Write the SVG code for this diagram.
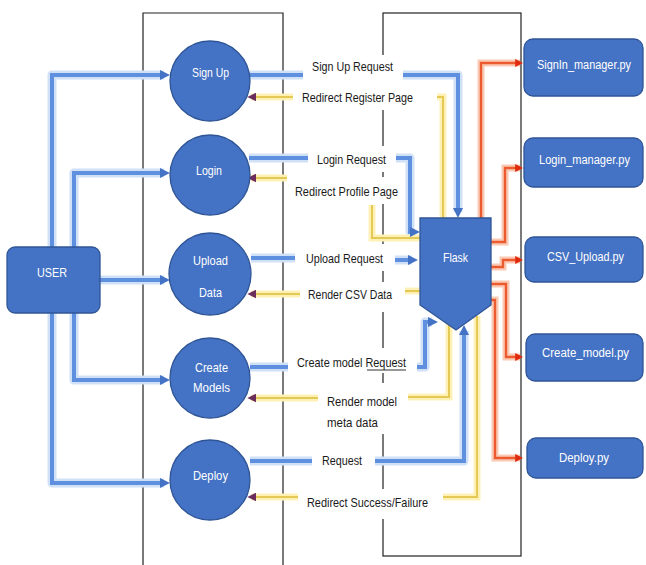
<svg xmlns="http://www.w3.org/2000/svg" width="646" height="565" viewBox="0 0 646 565">
<defs>
<style>
.frame{fill:none;stroke:#222;stroke-width:1.2}
.gB{fill:none;stroke:#cfe0f7;stroke-width:9;stroke-linejoin:round}
.cB{fill:none;stroke:#5f90e0;stroke-width:4;marker-end:url(#ab)}
.cBn{fill:none;stroke:#5f90e0;stroke-width:4}
.gY{fill:none;stroke:#fff1b5;stroke-width:7}
.cY{fill:none;stroke:#e6c855;stroke-width:2}
.cYa{fill:none;stroke:#e6c855;stroke-width:2;marker-end:url(#ap)}
.gR{fill:none;stroke:#fbcab4;stroke-width:7}
.cR{fill:none;stroke:#eb5b2f;stroke-width:2.4;marker-end:url(#ar)}
.node{fill:#4472c4;stroke:#2f5597;stroke-width:1.3}
.nt{font-family:"Liberation Sans Narrow","Liberation Sans",Arial,sans-serif;font-size:13px;fill:#fff}
.bt{font-family:"Liberation Sans Narrow","Liberation Sans",Arial,sans-serif;font-size:12px;fill:#fff}
.lt{font-family:"Liberation Sans Narrow","Liberation Sans",Arial,sans-serif;font-size:13px;fill:#1a1a1a}
.bg{fill:#fff}
</style>
<marker id="ab" viewBox="0 0 10 10" refX="4" refY="5" markerWidth="10" markerHeight="10" markerUnits="userSpaceOnUse" orient="auto"><path d="M0,0 L10,5 L0,10 z" fill="#4472c4"/></marker>
<marker id="ap" viewBox="0 0 10 10" refX="6" refY="5" markerWidth="9" markerHeight="9" markerUnits="userSpaceOnUse" orient="auto"><path d="M0,0 L10,5 L0,10 z" fill="#6b2d5c"/></marker>
<marker id="ar" viewBox="0 0 10 10" refX="6" refY="5" markerWidth="8" markerHeight="8" markerUnits="userSpaceOnUse" orient="auto"><path d="M0,0 L10,5 L0,10 z" fill="#e02a10"/></marker>
</defs>
<rect width="646" height="565" fill="#fff"/>
<g id="frames">
<path class="frame" d="M143,570 V13 H283 V570"/>
<rect class="frame" x="383" y="13" width="138" height="543"/>
</g>
<g id="connectors">
<g id="glow">
<path class="gB" d="M52,247 V75 H164"/>
<path class="gB" d="M74,247 V173 H164"/>
<path class="gB" d="M100,280 H164"/>
<path class="gB" d="M74,313 V380 H164"/>
<path class="gB" d="M52,313 V483 H164"/>
<path class="gB" d="M250,75 H303 M403,75 H458 V212"/>
<path class="gB" d="M249,158 H308 M396,158 H410 V232 H414"/>
<path class="gB" d="M251,258 H295 M395,260 H412"/>
<path class="gB" d="M250,367 H288 M417,367 H425 V322 H432"/>
<path class="gB" d="M250,461 H312 M375,461 H464 V331"/>
<path class="gY" d="M293,97 H251 M437,97 H443 V218"/>
<path class="gY" d="M287,178 H251 M420,238 H372 V205"/>
<path class="gY" d="M300,294 H251 M405,291 H420"/>
<path class="gY" d="M318,398 H251 M408,397 H449 V324"/>
<path class="gY" d="M298,497 H251 M443,497 H477 V316"/>
<path class="gR" d="M481,218 V63 H520"/>
<path class="gR" d="M491,242 H505 V168 H520"/>
<path class="gR" d="M491,267 H503 V260 H520"/>
<path class="gR" d="M491,284 H506 V357 H520"/>
<path class="gR" d="M491,300 H495 V458 H520"/>
</g>
<g id="user-links">
<path class="cB" d="M52,247 V75 H164"/>
<path class="cB" d="M74,247 V173 H164"/>
<path class="cB" d="M100,280 H164"/>
<path class="cB" d="M74,313 V380 H164"/>
<path class="cB" d="M52,313 V483 H164"/>
</g>
<g id="requests">
<path class="cBn" d="M250,75 H303"/><path class="cB" d="M403,75 H458 V212"/>
<path class="cBn" d="M249,158 H308"/><path class="cB" d="M396,158 H410 V232 H414"/>
<path class="cBn" d="M251,258 H295"/><path class="cB" d="M395,260 H412"/>
<path class="cBn" d="M250,367 H288"/><path class="cB" d="M417,367 H425 V322 H432"/>
<path class="cBn" d="M250,461 H312"/><path class="cB" d="M375,461 H464 V331"/>
</g>
<g id="responses">
<path class="cYa" d="M293,97 H251"/><path class="cY" d="M437,97 H443 V218"/>
<path class="cYa" d="M287,178 H251"/><path class="cY" d="M420,238 H372 V205"/>
<path class="cYa" d="M300,294 H251"/><path class="cY" d="M405,291 H420"/>
<path class="cYa" d="M318,398 H251"/><path class="cY" d="M408,397 H449 V324"/>
<path class="cYa" d="M298,497 H251"/><path class="cY" d="M443,497 H477 V316"/>
</g>
<g id="dispatch">
<path class="cR" d="M481,218 V63 H520"/>
<path class="cR" d="M491,242 H505 V168 H520"/>
<path class="cR" d="M491,267 H503 V260 H520"/>
<path class="cR" d="M491,284 H506 V357 H520"/>
<path class="cR" d="M491,300 H495 V458 H520"/>
</g>
<g id="labels">
<rect class="bg" x="303" y="55" width="100" height="30"/>
<text class="lt" x="312" y="71" textLength="81" lengthAdjust="spacingAndGlyphs">Sign Up Request</text>
<rect class="bg" x="293" y="85" width="144" height="25"/>
<text class="lt" x="302" y="102" textLength="111" lengthAdjust="spacingAndGlyphs">Redirect Register Page</text>
<rect class="bg" x="308" y="146" width="88" height="26"/>
<text class="lt" x="317" y="164" textLength="69" lengthAdjust="spacingAndGlyphs">Login Request</text>
<rect class="bg" x="287" y="177" width="115" height="27"/>
<text class="lt" x="295" y="196" textLength="103" lengthAdjust="spacingAndGlyphs">Redirect Profile Page</text>
<rect class="bg" x="295" y="244" width="100" height="27"/>
<text class="lt" x="306" y="263" textLength="77" lengthAdjust="spacingAndGlyphs">Upload Request</text>
<rect class="bg" x="300" y="282" width="105" height="30"/>
<text class="lt" x="308" y="299" textLength="84" lengthAdjust="spacingAndGlyphs">Render CSV Data</text>
<rect class="bg" x="288" y="348" width="129" height="25"/>
<text class="lt" x="297" y="367" textLength="109" lengthAdjust="spacingAndGlyphs">Create model Request</text>
<line x1="367" y1="370" x2="406" y2="370" stroke="#1a1a1a" stroke-width="0.9"/>
<rect class="bg" x="318" y="383" width="90" height="51"/>
<text class="lt" x="327" y="406" textLength="70" lengthAdjust="spacingAndGlyphs">Render model</text>
<text class="lt" x="327" y="427" textLength="51" lengthAdjust="spacingAndGlyphs">meta data</text>
<rect class="bg" x="312" y="450" width="63" height="22"/>
<text class="lt" x="322" y="465" textLength="40" lengthAdjust="spacingAndGlyphs">Request</text>
<rect class="bg" x="298" y="489" width="145" height="30"/>
<text class="lt" x="307" y="507" textLength="121" lengthAdjust="spacingAndGlyphs">Redirect Success/Failure</text>
</g>
</g>
<g id="user"><rect class="node" x="7" y="247" width="93" height="66" rx="8"/><text class="nt" x="37" y="277" textLength="30" lengthAdjust="spacingAndGlyphs">USER</text></g>
<g id="signup"><circle class="node" cx="210" cy="81" r="40"/><text class="nt" x="192" y="77" textLength="37" lengthAdjust="spacingAndGlyphs">Sign Up</text></g>
<g id="login"><circle class="node" cx="210" cy="175" r="40"/><text class="nt" x="196" y="175" textLength="26" lengthAdjust="spacingAndGlyphs">Login</text></g>
<g id="upload"><circle class="node" cx="210" cy="274" r="41"/><text class="nt" x="193" y="265" textLength="35" lengthAdjust="spacingAndGlyphs">Upload</text><text class="nt" x="199" y="297" textLength="23" lengthAdjust="spacingAndGlyphs">Data</text></g>
<g id="create"><circle class="node" cx="210" cy="378" r="40"/><text class="nt" x="195" y="372" textLength="33" lengthAdjust="spacingAndGlyphs">Create</text><text class="nt" x="193" y="392" textLength="37" lengthAdjust="spacingAndGlyphs">Models</text></g>
<g id="deploy"><circle class="node" cx="210" cy="480" r="40"/><text class="nt" x="193" y="480" textLength="35" lengthAdjust="spacingAndGlyphs">Deploy</text></g>
<g id="flask"><path class="node" d="M420,218 H491 V305 L456,330 L420,305 Z"/><text class="nt" x="443" y="262" textLength="25" lengthAdjust="spacingAndGlyphs">Flask</text></g>
<g id="signin-manager"><rect class="node" x="524" y="39" width="119" height="57" rx="9"/><text class="bt" x="537" y="69" textLength="94" lengthAdjust="spacingAndGlyphs">SignIn_manager.py</text></g>
<g id="login-manager"><rect class="node" x="524" y="138" width="119" height="49" rx="9"/><text class="bt" x="539" y="164" textLength="91" lengthAdjust="spacingAndGlyphs">Login_manager.py</text></g>
<g id="csv-upload"><rect class="node" x="525" y="237" width="118" height="45" rx="9"/><text class="bt" x="547" y="261" textLength="77" lengthAdjust="spacingAndGlyphs">CSV_Upload.py</text></g>
<g id="create-model"><rect class="node" x="526" y="334" width="117" height="47" rx="9"/><text class="bt" x="542" y="357" textLength="87" lengthAdjust="spacingAndGlyphs">Create_model.py</text></g>
<g id="deploy-py"><rect class="node" x="527" y="438" width="116" height="40" rx="9"/><text class="bt" x="559" y="462" textLength="50" lengthAdjust="spacingAndGlyphs">Deploy.py</text></g>
</svg>
